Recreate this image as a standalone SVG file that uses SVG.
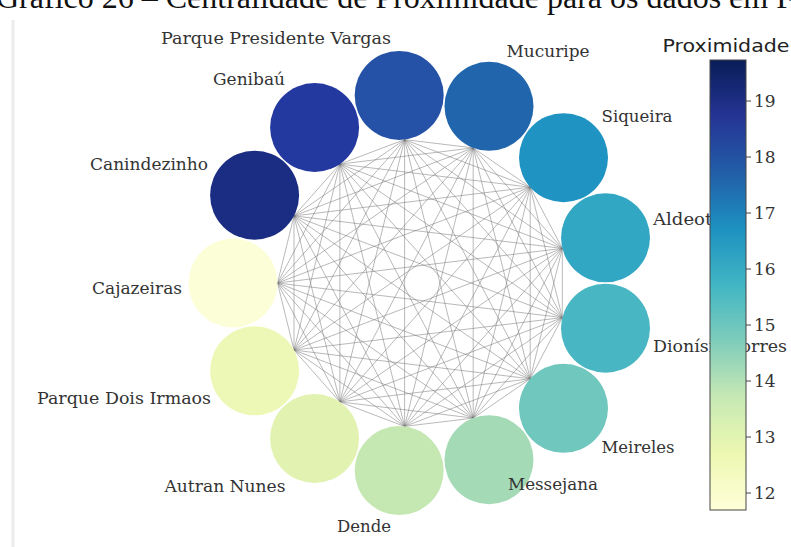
<svg xmlns="http://www.w3.org/2000/svg" width="791" height="547" viewBox="0 0 791 547">
<style>
.lbl{font-family:"DejaVu Serif","Liberation Serif",serif;font-size:16px;fill:#333333;text-anchor:middle}
.tick{font-family:"DejaVu Serif","Liberation Serif",serif;font-size:17px;fill:#333333}
.edges path{fill:none;stroke:#707070;stroke-width:0.9;stroke-opacity:0.55}
.tk{stroke:#444;stroke-width:1}
</style>
<defs>
<linearGradient id="ylgnbu" x1="0" y1="1" x2="0" y2="0">
<stop offset="0" stop-color="#ffffd9"/>
<stop offset="0.125" stop-color="#edf8b1"/>
<stop offset="0.25" stop-color="#c7e9b4"/>
<stop offset="0.375" stop-color="#7fcdbb"/>
<stop offset="0.5" stop-color="#41b6c4"/>
<stop offset="0.625" stop-color="#1d91c0"/>
<stop offset="0.75" stop-color="#225ea8"/>
<stop offset="0.875" stop-color="#253494"/>
<stop offset="1" stop-color="#081d58"/>
</linearGradient>
</defs>
<rect width="791" height="547" fill="#ffffff"/>
<text x="-4" y="8" font-family="Liberation Serif, serif" font-size="32" fill="#111">Gráfico 26 – Centralidade de Proximidade para os dados em F</text>
<line x1="13" y1="20" x2="13" y2="547" stroke="#ececec" stroke-width="3"/>
<g id="connectors" class="edges">
<path d="M277.5,283L294,215.9M277.5,283L339.9,164.1M277.5,283L404.6,139.6M277.5,283L473.2,147.9M277.5,283L530.2,187.2M277.5,283L562.3,248.4M277.5,283L562.3,317.6M277.5,283L530.2,378.8M277.5,283L473.2,418.1M277.5,283L404.6,426.4M277.5,283L339.9,401.9M277.5,283L294,350.1"/>
<path d="M294,215.9L339.9,164.1M294,215.9L404.6,139.6M294,215.9L473.2,147.9M294,215.9L530.2,187.2M294,215.9L562.3,248.4M294,215.9L562.3,317.6M294,215.9L530.2,378.8M294,215.9L473.2,418.1M294,215.9L404.6,426.4M294,215.9L339.9,401.9M294,215.9L294,350.1"/>
<path d="M339.9,164.1L404.6,139.6M339.9,164.1L473.2,147.9M339.9,164.1L530.2,187.2M339.9,164.1L562.3,248.4M339.9,164.1L562.3,317.6M339.9,164.1L530.2,378.8M339.9,164.1L473.2,418.1M339.9,164.1L404.6,426.4M339.9,164.1L339.9,401.9M339.9,164.1L294,350.1"/>
<path d="M404.6,139.6L473.2,147.9M404.6,139.6L530.2,187.2M404.6,139.6L562.3,248.4M404.6,139.6L562.3,317.6M404.6,139.6L530.2,378.8M404.6,139.6L473.2,418.1M404.6,139.6L404.6,426.4M404.6,139.6L339.9,401.9M404.6,139.6L294,350.1"/>
<path d="M473.2,147.9L530.2,187.2M473.2,147.9L562.3,248.4M473.2,147.9L562.3,317.6M473.2,147.9L530.2,378.8M473.2,147.9L473.2,418.1M473.2,147.9L404.6,426.4M473.2,147.9L339.9,401.9M473.2,147.9L294,350.1"/>
<path d="M530.2,187.2L562.3,248.4M530.2,187.2L562.3,317.6M530.2,187.2L530.2,378.8M530.2,187.2L473.2,418.1M530.2,187.2L404.6,426.4M530.2,187.2L339.9,401.9M530.2,187.2L294,350.1"/>
<path d="M562.3,248.4L562.3,317.6M562.3,248.4L530.2,378.8M562.3,248.4L473.2,418.1M562.3,248.4L404.6,426.4M562.3,248.4L339.9,401.9M562.3,248.4L294,350.1"/>
<path d="M562.3,317.6L530.2,378.8M562.3,317.6L473.2,418.1M562.3,317.6L404.6,426.4M562.3,317.6L339.9,401.9M562.3,317.6L294,350.1"/>
<path d="M530.2,378.8L473.2,418.1M530.2,378.8L404.6,426.4M530.2,378.8L339.9,401.9M530.2,378.8L294,350.1"/>
<path d="M473.2,418.1L404.6,426.4M473.2,418.1L339.9,401.9M473.2,418.1L294,350.1"/>
<path d="M404.6,426.4L339.9,401.9M404.6,426.4L294,350.1"/>
<path d="M339.9,401.9L294,350.1"/>
</g>
<g id="node-cajazeiras"><circle cx="233" cy="283" r="44.5" fill="#fcfed8"/><text class="lbl" x="137" y="294" textLength="90" lengthAdjust="spacingAndGlyphs">Cajazeiras</text></g>
<g id="node-canindezinho"><circle cx="254.6" cy="195.2" r="44.5" fill="#1b2d83"/><text class="lbl" x="149" y="170" textLength="118" lengthAdjust="spacingAndGlyphs">Canindezinho</text></g>
<g id="node-genibau"><circle cx="314.6" cy="127.5" r="44.5" fill="#2439a0"/><text class="lbl" x="249" y="85" textLength="72" lengthAdjust="spacingAndGlyphs">Genibaú</text></g>
<g id="node-parque-presidente-vargas"><circle cx="399.2" cy="95.4" r="44.5" fill="#2552a6"/><text class="lbl" x="276" y="44" textLength="230" lengthAdjust="spacingAndGlyphs">Parque Presidente Vargas</text></g>
<g id="node-mucuripe"><circle cx="489" cy="106.3" r="44.5" fill="#2166ac"/><text class="lbl" x="548" y="57" textLength="83" lengthAdjust="spacingAndGlyphs">Mucuripe</text></g>
<g id="node-siqueira"><circle cx="563.5" cy="157.7" r="44.5" fill="#1f93c1"/><text class="lbl" x="637" y="122" textLength="71" lengthAdjust="spacingAndGlyphs">Siqueira</text></g>
<g id="node-aldeota"><circle cx="605.5" cy="237.8" r="44.5" fill="#32a7c3"/><text class="lbl" x="688" y="225" textLength="70" lengthAdjust="spacingAndGlyphs">Aldeota</text></g>
<g id="node-dionisio-torres"><circle cx="605.5" cy="328.2" r="44.5" fill="#48b6c3"/><text class="lbl" x="720" y="352" textLength="134" lengthAdjust="spacingAndGlyphs">Dionísio Torres</text></g>
<g id="node-meireles"><circle cx="563.5" cy="408.3" r="44.5" fill="#6fc7bd"/><text class="lbl" x="638" y="453" textLength="73" lengthAdjust="spacingAndGlyphs">Meireles</text></g>
<g id="node-messejana"><circle cx="489" cy="459.7" r="44.5" fill="#a5dab7"/><text class="lbl" x="553" y="490" textLength="90" lengthAdjust="spacingAndGlyphs">Messejana</text></g>
<g id="node-dende"><circle cx="399.2" cy="470.6" r="44.5" fill="#c5e8b3"/><text class="lbl" x="364" y="532" textLength="54" lengthAdjust="spacingAndGlyphs">Dende</text></g>
<g id="node-autran-nunes"><circle cx="314.6" cy="438.5" r="44.5" fill="#e2f3b1"/><text class="lbl" x="225" y="492" textLength="121" lengthAdjust="spacingAndGlyphs">Autran Nunes</text></g>
<g id="node-parque-dois-irmaos"><circle cx="254.6" cy="370.8" r="44.5" fill="#eef8b6"/><text class="lbl" x="124" y="404" textLength="174" lengthAdjust="spacingAndGlyphs">Parque Dois Irmaos</text></g>
<g id="colorbar">
<text x="726" y="52" font-family="DejaVu Sans, sans-serif" font-size="18" fill="#222" text-anchor="middle" textLength="127" lengthAdjust="spacingAndGlyphs">Proximidade</text>
<rect x="710" y="60" width="36" height="450" fill="url(#ylgnbu)" stroke="#444" stroke-width="1"/>
<line class="tk" x1="746" y1="101" x2="751" y2="101"/><text class="tick" x="754" y="107">19</text>
<line class="tk" x1="746" y1="157" x2="751" y2="157"/><text class="tick" x="754" y="163">18</text>
<line class="tk" x1="746" y1="213" x2="751" y2="213"/><text class="tick" x="754" y="219">17</text>
<line class="tk" x1="746" y1="269" x2="751" y2="269"/><text class="tick" x="754" y="275">16</text>
<line class="tk" x1="746" y1="325" x2="751" y2="325"/><text class="tick" x="754" y="331">15</text>
<line class="tk" x1="746" y1="381" x2="751" y2="381"/><text class="tick" x="754" y="387">14</text>
<line class="tk" x1="746" y1="437" x2="751" y2="437"/><text class="tick" x="754" y="443">13</text>
<line class="tk" x1="746" y1="493" x2="751" y2="493"/><text class="tick" x="754" y="499">12</text>
</g>
</svg>
